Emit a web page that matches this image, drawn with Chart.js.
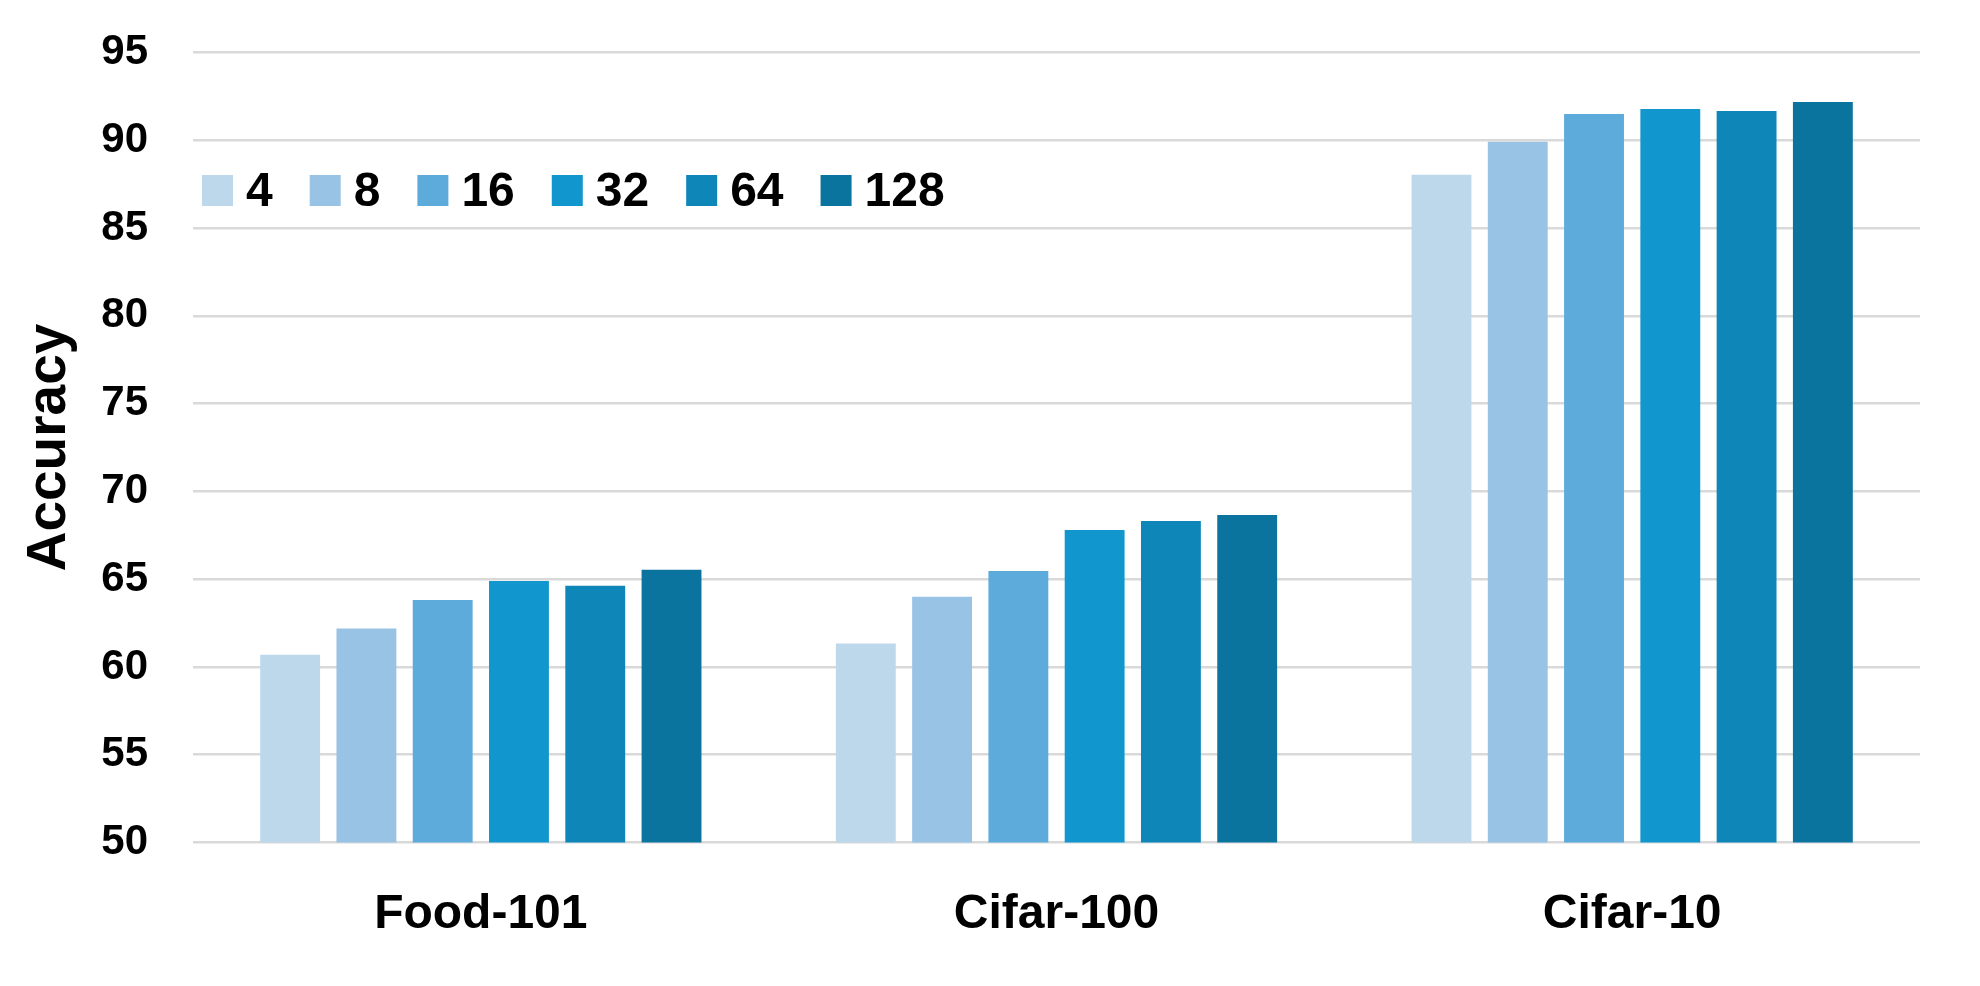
<!DOCTYPE html>
<html>
<head>
<meta charset="utf-8">
<title>Accuracy chart</title>
<script src="https://cdn.jsdelivr.net/npm/chart.js@4.4.1/dist/chart.umd.min.js"></script>
<style>
  html, body { margin: 0; padding: 0; background: #ffffff; }
  #wrap { width: 1980px; height: 986px; position: relative; }
</style>
</head>
<body>
<div id="wrap"><canvas id="acc_chart"></canvas></div>
<script>
"use strict";

// datasets on the x axis
const categories = ['Food-101', 'Cifar-100', 'Cifar-10'];

// one series per setting, in legend order
const seriesNames = ['4', '8', '16', '32', '64', '128'];
const acc4 = [60.70, 61.33, 88.03];
const acc8 = [62.19, 64.00, 89.92];
const acc16 = [63.82, 65.47, 91.50];
const acc32 = [64.90, 67.80, 91.78];
const acc64 = [64.62, 68.31, 91.67];
const acc128 = [65.53, 68.66, 92.18];

// y axis range
const yMin = 50;
const yMax = 95;
const yStep = 5;

const seriesValues = [acc4, acc8, acc16, acc32, acc64, acc128];
const seriesColors = ['#bdd7eb', '#98c3e4', '#5cabda', '#1197cd', '#0e86b8', '#0a749f'];

const FONT = "'Liberation Sans', Arial, sans-serif";

// legend drawn inside the plot, near the top left corner
const insideLegend = {
  id: 'insideLegend',
  afterDatasetsDraw: function(chart) {
    let ctx = chart.ctx;
    let area = chart.chartArea;
    let x = area.left + 9;
    let boxTop = area.top + 122.5;
    let box = 31;

    ctx.save();
    ctx.font = 'bold 48px ' + FONT;
    ctx.textBaseline = 'alphabetic';
    ctx.textAlign = 'left';
    chart.data.datasets.forEach(function(ds) {
      ctx.fillStyle = ds.backgroundColor;
      ctx.fillRect(x, boxTop, box, box);
      x += box + 13;
      ctx.fillStyle = '#000000';
      ctx.fillText(ds.label, x, boxTop + box);
      x += ctx.measureText(ds.label).width + 37;
    });
    ctx.restore();
  }
};

let datasets = seriesNames.map(function(name, i) {
  return {
    label: name,
    data: seriesValues[i],
    backgroundColor: seriesColors[i],
    borderWidth: 0,
    categoryPercentage: 0.795,
    barPercentage: 0.785
  };
});

new Chart(document.getElementById('acc_chart'), {
  type: 'bar',
  data: {
    labels: categories,
    datasets: datasets
  },
  plugins: [insideLegend],
  options: {
    responsive: true,
    maintainAspectRatio: false,
    animation: false,
    layout: {
      padding: { top: 52.5, right: 60, bottom: 0, left: 0 }
    },
    plugins: {
      legend: { display: false },
      tooltip: { enabled: false }
    },
    scales: {
      x: {
        grid: { display: false },
        border: { display: false },
        ticks: {
          padding: 35,
          color: '#000000',
          font: { family: FONT, size: 48, weight: 'bold' }
        },
        // chart.js doubles the tick padding when sizing, so fix the height
        afterFit: function(scale) {
          scale.height = 143.5;
        }
      },
      y: {
        min: yMin,
        max: yMax,
        border: { display: false },
        grid: {
          color: '#d9d9d9',
          lineWidth: 2.5,
          drawTicks: false
        },
        ticks: {
          stepSize: yStep,
          padding: 45,
          color: '#000000',
          font: { family: FONT, size: 42, weight: 'bold' }
        },
        title: {
          display: true,
          text: 'Accuracy',
          color: '#000000',
          padding: { top: 17, bottom: 19 },
          font: { family: FONT, size: 55, weight: 'bold' }
        },
        // keep the tick padding from pushing the plot down
        afterFit: function(scale) {
          scale.width = 193;
          scale.paddingTop = 0;
          scale.paddingBottom = 0;
        }
      }
    }
  }
});
</script>
</body>
</html>
